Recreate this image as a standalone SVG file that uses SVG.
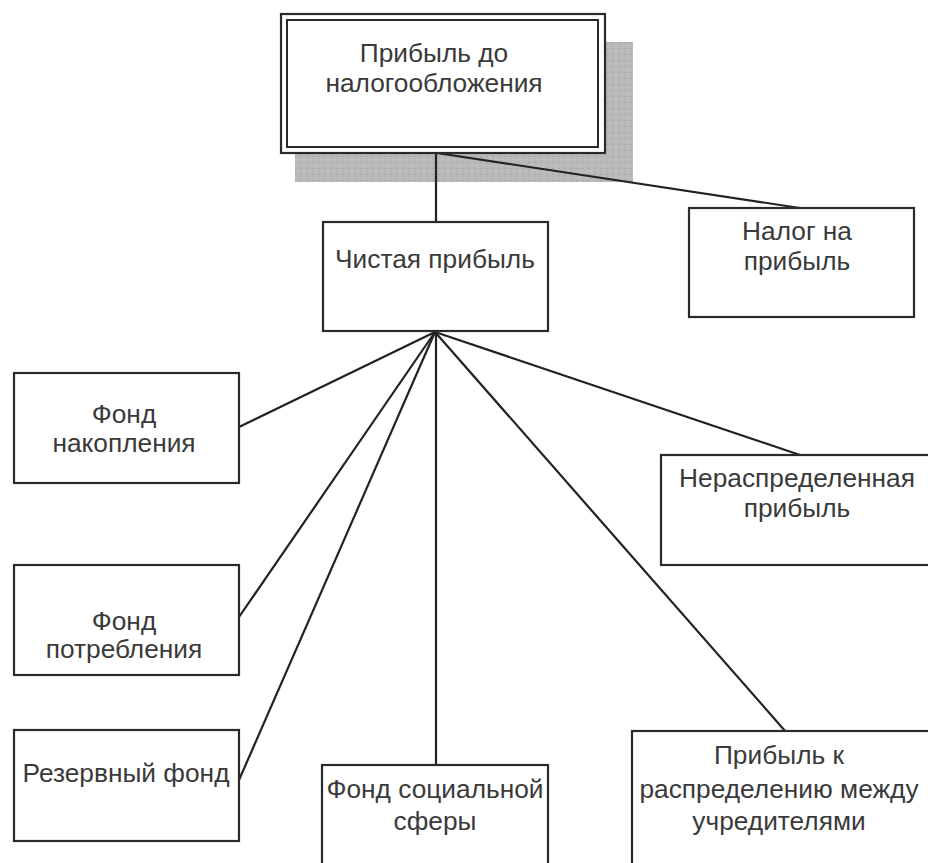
<svg xmlns="http://www.w3.org/2000/svg" width="928" height="863" viewBox="0 0 928 863">
<defs>
<style>
.box{fill:#fff;stroke:#2a2a2a;stroke-width:2.2}
.t{font-family:"Liberation Sans",Arial,sans-serif;font-size:26.3px;fill:#3a3a3a;text-anchor:middle}
.c{stroke:#222;stroke-width:2.2;fill:none}
</style>
<pattern id="tex" width="6" height="6" patternUnits="userSpaceOnUse">
<rect width="6" height="6" fill="#b9b9b9"/>
<rect x="0" y="0" width="2" height="1" fill="#a8a8a8"/>
<rect x="3" y="3" width="2" height="1" fill="#c6c6c6"/>
</pattern>
</defs>
<rect width="928" height="863" fill="#fff"/>
<rect id="shadow" x="295" y="42" width="338" height="140" fill="url(#tex)"/>
<g id="connectors">
<line class="c" x1="436" y1="153" x2="436" y2="222"/>
<line class="c" x1="437" y1="153" x2="800" y2="208"/>
<line class="c" x1="435" y1="332" x2="239" y2="427"/>
<line class="c" x1="435" y1="332" x2="239" y2="617"/>
<line class="c" x1="435" y1="332" x2="239" y2="780"/>
<line class="c" x1="436" y1="332" x2="436" y2="765"/>
<line class="c" x1="435" y1="332" x2="786" y2="732"/>
<line class="c" x1="435" y1="332" x2="800" y2="455"/>
</g>
<g id="n-top">
<rect class="box" x="281" y="14" width="324" height="139" stroke-width="2.6"/>
<rect x="287" y="20" width="311" height="127" fill="none" stroke="#2a2a2a" stroke-width="2"/>
<text class="t" x="434" y="62">Прибыль до</text>
<text class="t" x="434" y="92">налогообложения</text>
</g>
<g id="n-net">
<rect class="box" x="323" y="222" width="225" height="109"/>
<text class="t" x="435" y="268">Чистая прибыль</text>
</g>
<g id="n-tax">
<rect class="box" x="689" y="208" width="225" height="109"/>
<text class="t" x="797" y="240">Налог на</text>
<text class="t" x="797" y="270">прибыль</text>
</g>
<g id="n-acc">
<rect class="box" x="14" y="373" width="225" height="110"/>
<text class="t" x="124" y="423">Фонд</text>
<text class="t" x="124" y="452">накопления</text>
</g>
<g id="n-cons">
<rect class="box" x="14" y="565" width="225" height="110"/>
<text class="t" x="124" y="630">Фонд</text>
<text class="t" x="124" y="658">потребления</text>
</g>
<g id="n-res">
<rect class="box" x="14" y="730" width="225" height="111"/>
<text class="t" x="126" y="782">Резервный фонд</text>
</g>
<g id="n-soc">
<rect class="box" x="322" y="765" width="226" height="110"/>
<text class="t" x="435" y="798">Фонд социальной</text>
<text class="t" x="435" y="830">сферы</text>
</g>
<g id="n-undist">
<rect class="box" x="661" y="455" width="275" height="110"/>
<text class="t" x="797" y="487">Нераспределенная</text>
<text class="t" x="797" y="517">прибыль</text>
</g>
<g id="n-found">
<rect class="box" x="632" y="731" width="305" height="145"/>
<text class="t" x="779" y="764">Прибыль к</text>
<text class="t" x="779" y="798">распределению между</text>
<text class="t" x="779" y="830">учредителями</text>
</g>
</svg>
